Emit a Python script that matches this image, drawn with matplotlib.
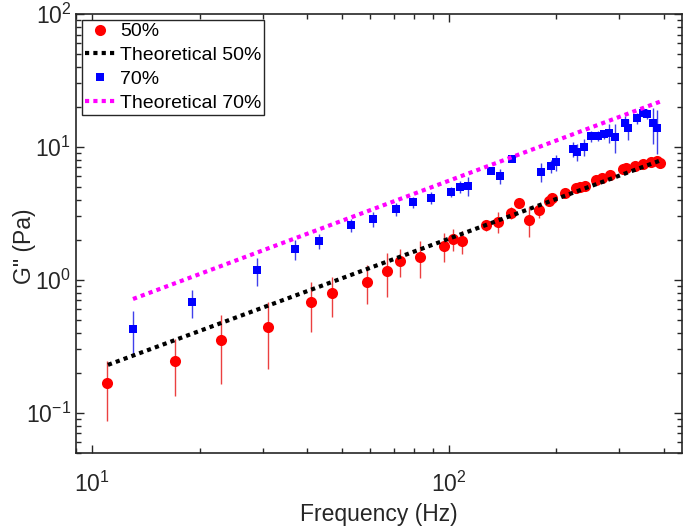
import numpy as np
import matplotlib
matplotlib.use("Agg")
import matplotlib.pyplot as plt

plt.rcParams['font.family'] = ['Liberation Sans', 'DejaVu Sans']
plt.rcParams['mathtext.fontset'] = 'custom'
plt.rcParams['mathtext.rm'] = 'Liberation Sans'

# 50% data (frequency, G'', error)
freq_50 = [11.0, 17.0, 23.0, 31.1, 40.9, 47.0, 59.0, 67.0, 73.1, 83.1,
           97.1, 102.9, 109.0, 126.7, 137.2, 149.0, 157.1, 167.3, 178.8, 190.4,
           195.0, 211.1, 226.7, 232.6, 241.3, 257.9, 269.3, 282.3, 307.6, 314.4,
           331.7, 349.9, 369.4, 384.1, 389.9]
g_50 = [0.166, 0.246, 0.352, 0.444, 0.684, 0.791, 0.968, 1.165, 1.378, 1.492,
        1.806, 2.017, 1.958, 2.584, 2.736, 3.199, 3.763, 2.818, 3.351, 3.916,
        4.10, 4.475, 4.88, 5.02, 5.08, 5.63, 5.86, 6.14, 6.78, 6.90,
        7.18, 7.43, 7.74, 7.87, 7.60]
err_50 = [0.079, 0.112, 0.187, 0.232, 0.28, 0.263, 0.315, 0.418, 0.32, 0.466,
          0.435, 0.375, 0.39, 0.25, 0.5, 0.33, 0.2, 0.72, 0.45, 0.25,
          0.25, 0.25, 0.3, 0.3, 0.3, 0.3, 0.35, 0.35, 0.4, 0.4,
          0.4, 0.45, 0.45, 0.5, 0.6]

# 70% data
freq_70 = [13.0, 19.0, 29.0, 37.1, 43.1, 53.0, 61.1, 71.0, 79.1, 89.3,
           101.1, 107.2, 113.3, 131.5, 139.4, 150.6, 180.8, 192.8, 199.1, 222.7,
           228.6, 238.7, 250.8, 261.7, 271.5, 280.9, 292.8, 311.0, 317.7, 337.6,
           349.9, 359.1, 373.4, 384.1]
g_70 = [0.426, 0.677, 1.185, 1.696, 1.958, 2.584, 2.867, 3.409, 3.847, 4.145,
        4.60, 5.02, 5.105, 6.59, 6.04, 8.07, 6.51, 7.18, 7.66, 9.59,
        9.20, 10.03, 12.08, 12.08, 12.5, 12.79, 11.93, 15.2, 13.8, 16.4,
        17.9, 17.7, 15.05, 13.8]
err_70 = [0.159, 0.162, 0.285, 0.29, 0.24, 0.3, 0.39, 0.37, 0.35, 0.44,
          0.42, 0.52, 0.81, 0.3, 0.8, 0.3, 1.06, 0.85, 1.1, 1.25,
          1.3, 1.45, 1.2, 1.0, 1.0, 2.0, 3.0, 2.0, 2.55, 1.5,
          1.0, 1.5, 4.5, 5.0]

# theoretical power-law lines (end points)
theo_50_f = [11.06, 394.0]
theo_50_g = [0.229, 7.96]
theo_70_f = [13.0, 396.0]
theo_70_g = [0.717, 22.2]

fig = plt.figure(figsize=(6.85, 5.28), dpi=100)
ax = fig.add_axes([0.111, 0.1426, 0.8846, 0.8309])

eb50 = ax.errorbar(freq_50, g_50, yerr=err_50, fmt='o', color='red',
                   ecolor=(0.92, 0.25, 0.25), elinewidth=1.0, capsize=4,
                   capthick=1.0, markersize=8, markeredgewidth=0, zorder=2)
eb70 = ax.errorbar(freq_70, g_70, yerr=err_70, fmt='s', color='blue',
                   ecolor=(0.25, 0.25, 0.92), elinewidth=1.0, capsize=4,
                   capthick=1.0, markersize=5.5, markeredgewidth=0, zorder=2)
l50, = ax.plot(theo_50_f, theo_50_g, color='black', lw=3.0,
               linestyle=(0, (1, 1)), dash_capstyle='butt', zorder=3)
l70, = ax.plot(theo_70_f, theo_70_g, color='magenta', lw=3.0,
               linestyle=(0, (1, 1)), dash_capstyle='butt', zorder=3)

ax.set_xscale('log')
ax.set_yscale('log')
ax.set_xlim(9, 450)
ax.set_ylim(0.05, 100)

ax.tick_params(which='both', direction='in', top=True, right=True,
               labelsize=16.5, width=1.0, colors='#262626')
ax.tick_params(which='major', length=6)
ax.tick_params(which='minor', length=3.5)
for s in ax.spines.values():
    s.set_linewidth(1.2)
    s.set_color('#262626')
ax.tick_params(axis='x', pad=14)

ax.set_xlabel('Frequency (Hz)', fontsize=16.5, color='#262626')
ax.set_ylabel('G" (Pa)', fontsize=16.5, color='#262626')
ax.yaxis.set_label_coords(-0.066, 0.47)

leg = ax.legend([eb50.lines[0], l50, eb70.lines[0], l70],
                ['50%', 'Theoretical 50%', '70%', 'Theoretical 70%'],
                loc='upper left', fontsize=14, fancybox=False,
                edgecolor='#262626', framealpha=1, handlelength=1.6,
                handletextpad=0.2, borderpad=0.15, labelspacing=0.32,
                borderaxespad=0.3)
leg.get_frame().set_linewidth(1.0)

fig.savefig('out.png', dpi=100)
